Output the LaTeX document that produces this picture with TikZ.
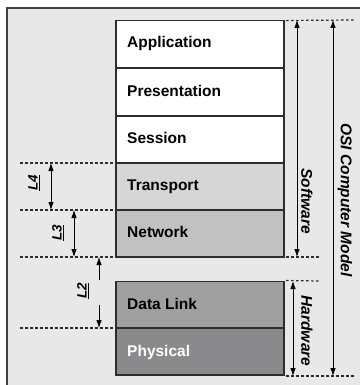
\documentclass[tikz,border=0pt]{standalone}
\usepackage{fontspec}
\setmainfont{Liberation Sans}
\usetikzlibrary{arrows.meta}
\definecolor{panel}{RGB}{231,232,231}
\definecolor{framec}{RGB}{64,64,64}
\definecolor{edgec}{RGB}{45,45,45}
\definecolor{transc}{RGB}{214,214,214}
\definecolor{netc}{RGB}{193,193,193}
\definecolor{linkc}{RGB}{160,160,160}
\definecolor{physc}{RGB}{138,138,140}
\tikzset{
  layer/.style={draw=edgec, line width=1.3pt, minimum width=168pt, minimum height=47pt, inner sep=0pt, outer sep=0pt},
  layertext/.style={anchor=base west, inner sep=0pt, font=\fontsize{15.5}{17}\selectfont\bfseries},
  dotline/.style={draw=edgec, line width=1.2pt, dash pattern=on 2.5pt off 2.5pt},
  span/.style={draw=black, line width=0.8pt, {Latex[length=8pt,width=5.5pt]}-{Latex[length=8pt,width=5.5pt]}},
  oneway/.style={draw=black, line width=0.8pt, -{Latex[length=8pt,width=5.5pt]}},
  smalllabel/.style={rotate=90, inner sep=0pt, font=\fontsize{13.5}{15}\selectfont\bfseries\itshape},
  biglabel/.style={rotate=-90, inner sep=0pt, font=\fontsize{15.5}{17}\selectfont\bfseries\itshape}
}
\begin{document}
\begin{tikzpicture}[x=1pt,y=-1pt]
\useasboundingbox (0,0) rectangle (360,385);
% panel with its top and left border
\fill[panel] (7,8) rectangle (360,385);
\draw[framec, line width=2pt] (7,385) -- (7,8) -- (360,8);

% the seven layers
\node[layer, fill=white]  (app)   at (200,44)    {};
\node[layer, fill=white]  (pres)  at (200,92)    {};
\node[layer, fill=white]  (sess)  at (200,139.5) {};
\node[layer, fill=transc] (trans) at (200,186.5) {};
\node[layer, fill=netc]   (net)   at (200,233.5) {};
\node[layer, fill=linkc]  (link)  at (200,305)   {};
\node[layer, fill=physc]  (phys)  at (200,351.5) {};

\node[layertext] (tapp)   at (127,48)    {Application};
\node[layertext] (tpres)  at (127,96)    {Presentation};
\node[layertext] (tsess)  at (127,143.5) {Session};
\node[layertext] (ttrans) at (127,190.5) {Transport};
\node[layertext] (tnet)   at (127,237.5) {Network};
\node[layertext] (tlink)  at (127,309)   {Data Link};
\node[layertext, text=white] (tphys) at (127,356.5) {Physical};

% left-hand guide lines
\coordinate (g1) at (20,163);
\coordinate (g2) at (20,210);
\coordinate (g3) at (20,257);
\coordinate (g4) at (20,328);
\draw[dotline] (g1) -- (trans.north west);
\draw[dotline] (g2) -- (net.north west);
\draw[dotline] (g3) -- (net.south west);
\draw[dotline] (g4) -- (phys.north west);

% L4 and L3 spans
\coordinate (l4a) at (51,163);
\coordinate (l4b) at (51,210);
\draw[span] (l4a) -- (l4b);
\node[smalllabel] (l4) at (34,183) {\underline{L4}};
\coordinate (l3a) at (74,210);
\coordinate (l3b) at (74,257);
\draw[span] (l3a) -- (l3b);
\node[smalllabel] (l3) at (58,233) {\underline{L3}};

% L2 pointers
\coordinate (l2a) at (99,280);
\coordinate (l2b) at (99,257);
\coordinate (l2c) at (99,305);
\coordinate (l2d) at (99,328);
\draw[oneway] (l2a) -- (l2b);
\draw[oneway] (l2c) -- (l2d);
\node[smalllabel] (l2) at (83,291) {\underline{L2}};

% right-hand guide lines
\coordinate (r1) at (354,20);
\coordinate (r2) at (319,257);
\coordinate (r3) at (319,281);
\coordinate (r4) at (354,376);
\draw[dotline] (app.north east) ++(2,0) -- (r1);
\draw[dotline] (net.south east) ++(2,0) -- (r2);
\draw[dotline] (link.north east) ++(2,-1) -- (r3);
\draw[dotline] (phys.south east) ++(2,1) -- (r4);

% software, hardware and model spans
\coordinate (sa) at (297,20);
\coordinate (sb) at (297,257);
\draw[span] (sa) -- (sb);
\node[biglabel] (sw) at (307,201) {Software};
\coordinate (ha) at (293,281);
\coordinate (hb) at (293,376);
\draw[span] (ha) -- (hb);
\node[biglabel] (hw) at (307,331) {Hardware};
\coordinate (ma) at (333,20);
\coordinate (mb) at (333,376);
\draw[span] (ma) -- (mb);
\node[biglabel] (osi) at (345,200) {OSI Computer Model};
\end{tikzpicture}
\end{document}
